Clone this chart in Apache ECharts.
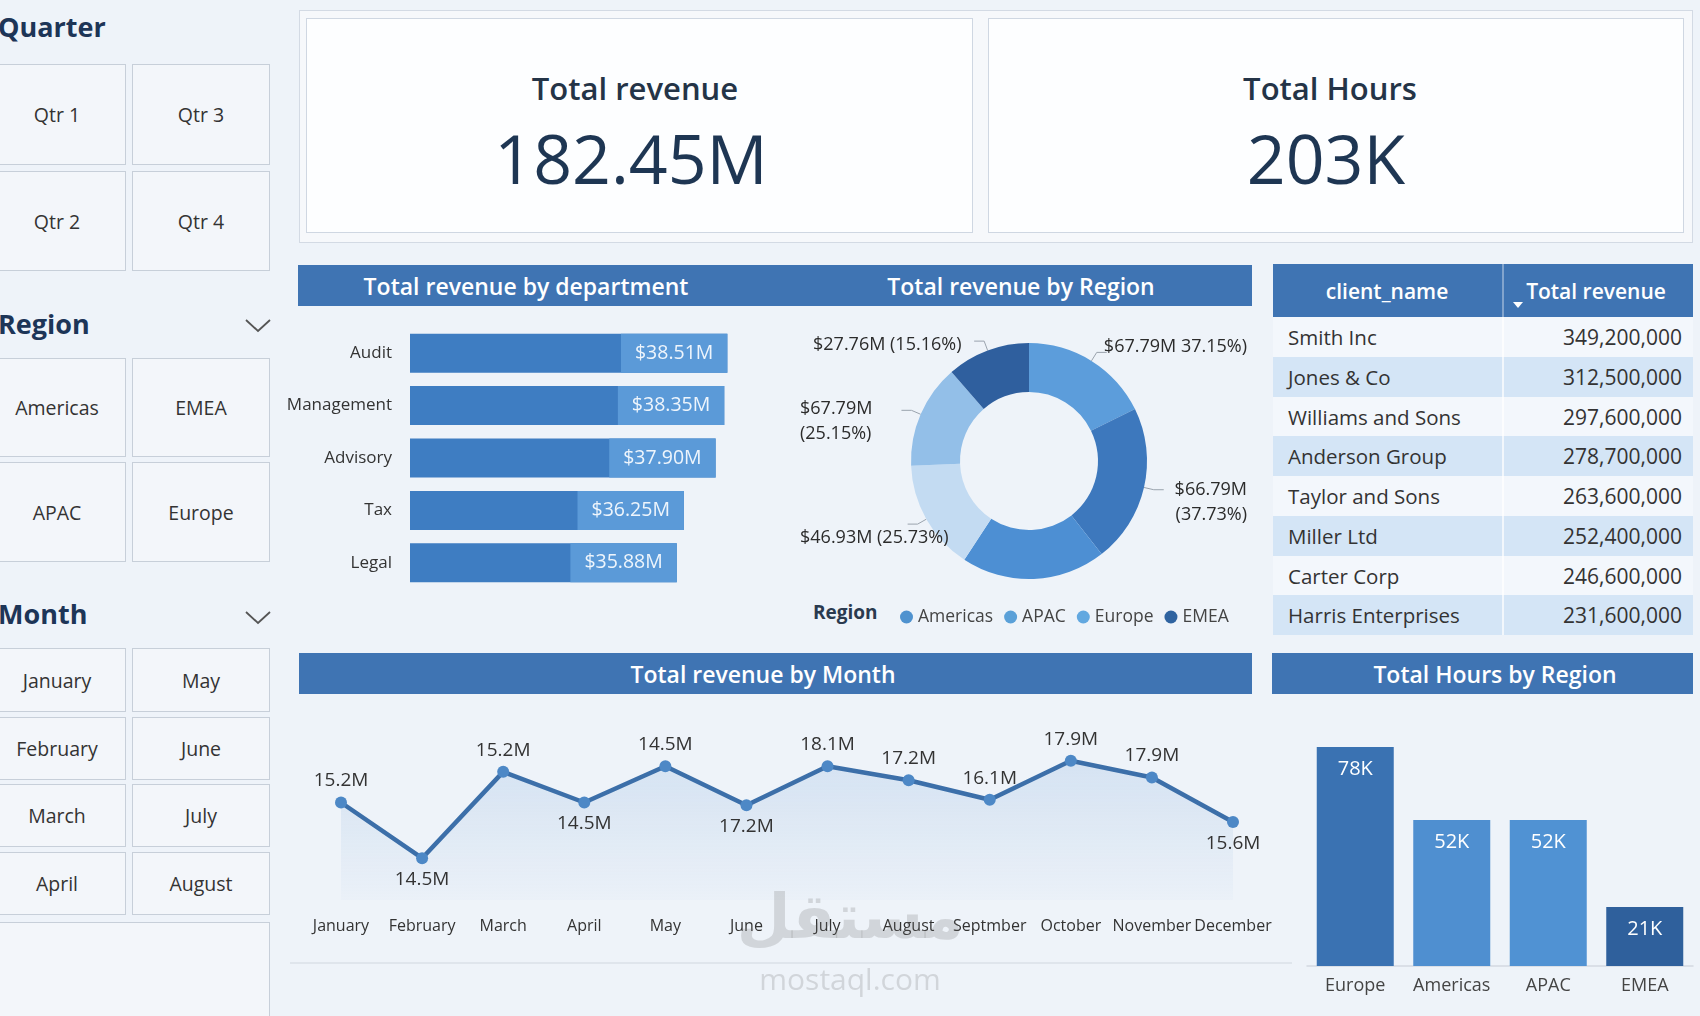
<!DOCTYPE html>
<html><head><meta charset="utf-8">
<script src="https://cdn.jsdelivr.net/npm/echarts@6/dist/echarts.min.js"></script>
<style>
html,body{margin:0;padding:0;width:1700px;height:1016px;overflow:hidden;background:#eef3f9;font-family:"Open Sans","Noto Sans",sans-serif;}
.abs{position:absolute;box-sizing:border-box;}
.slicer{position:absolute;box-sizing:border-box;border:1.5px solid #c7cfd9;background:#f3f6fa;display:flex;align-items:center;justify-content:center;font-size:19.5px;color:#333;}
.stitle{position:absolute;left:-2px;font-size:27px;font-weight:700;color:#1d3557;line-height:30px;height:30px;}
.hdr{position:absolute;box-sizing:border-box;background:#3f74b3;color:#fff;font-weight:600;font-size:23px;}
.hdr span{position:absolute;top:0;height:100%;display:flex;align-items:center;transform:translateX(-50%);white-space:nowrap;}
.card{position:absolute;box-sizing:border-box;border:1.5px solid #cfd7e2;background:#fdfeff;}
.kt{position:absolute;transform:translate(-50%,-50%);white-space:nowrap;color:#22324a;}
.row{position:absolute;left:1273px;width:420px;height:40px;box-sizing:border-box;font-size:20.5px;color:#333;}
.row .n{position:absolute;left:15px;top:0;height:100%;display:flex;align-items:center;}
.row .v{position:absolute;right:11px;top:0;height:100%;display:flex;align-items:center;font-size:21px;}
.row .d{position:absolute;left:229px;top:0;height:100%;width:2px;background:rgba(255,255,255,0.7);}
#chart{position:absolute;left:0;top:0;width:1700px;height:1016px;}
.wm{position:absolute;color:rgba(110,110,110,0.22);white-space:nowrap;transform:translateX(-50%);}
</style>
</head>
<body>
<div id="panels"></div>
<div id="chart"></div>
<div class="wm" style="left:850px;top:880px;font-family:'DejaVu Sans';font-weight:bold;font-size:62px;">مستقل</div>
<div class="wm" style="left:850px;top:958px;font-size:30px;">mostaql.com</div>
<script>
// ---------- data ----------
const quarters = ['Qtr 1','Qtr 3','Qtr 2','Qtr 4'];
const regionsSlicer = ['Americas','EMEA','APAC','Europe'];
const monthsSlicer = ['January','May','February','June','March','July','April','August'];
const kpiTitles = ['Total revenue','Total Hours'];
const kpiValues = ['182.45M','203K'];

const deptNames = ['Audit','Management','Advisory','Tax','Legal'];
const deptRevenue = [38.51, 38.35, 37.90, 36.25, 35.88];

const regionSliceNames = ['APAC','EMEA','Americas','Americas','Europe','EMEA'];
const regionSliceValues = [32.4, 39.6, 36.1, 27.6, 26.0, 20.8];
const regionSliceLabels = ['$67.79M 37.15%)', '$66.79M\n(37.73%)', '', '$46.93M (25.73%)', '$67.79M\n(25.15%)', '$27.76M (15.16%)'];
const legendNames = ['Americas','APAC','Europe','EMEA'];

const clientNames = ['Smith Inc','Jones & Co','Williams and Sons','Anderson Group','Taylor and Sons','Miller Ltd','Carter Corp','Harris Enterprises'];
const clientRevenue = [349200000, 312500000, 297600000, 278700000, 263600000, 252400000, 246600000, 231600000];

const months = ['January','February','March','April','May','June','July','August','Septmber','October','November','December'];
const monthValues = [16.5, 14.5, 17.6, 16.5, 17.8, 16.4, 17.8, 17.3, 16.6, 18.0, 17.4, 15.8];
const monthLabels = ['15.2M','14.5M','15.2M','14.5M','14.5M','17.2M','18.1M','17.2M','16.1M','17.9M','17.9M','15.6M'];

const hoursRegions = ['Europe','Americas','APAC','EMEA'];
const hoursValues = [78, 52, 52, 21];

// ---------- styles ----------
const sliceColors = ['#5c9ddb','#3d78bd','#4d8fd3','#c3dbf2','#93bfe8','#2f5f9e'];
const sliceLabelShift = [[0,-6],[0,13],[0,0],[0,14],[0,11],[13,4]];
const legendColors = ['#4f92cf','#5aa0d8','#62a8e0','#2f63a0'];
const monthLabelPos = ['top','bottom','top','bottom','top','bottom','top','top','top','top','top','bottom'];
const hoursColors = ['#3a72b2','#4f8fd0','#5092d3','#2f609c'];

// ---------- HTML panels ----------
const P = document.getElementById('panels');
function add(html){ P.insertAdjacentHTML('beforeend', html); }
const chev = (y)=>`<svg class="abs" style="left:244px;top:${y-8}px" width="28" height="16"><polyline points="2,3 14,14 26,3" fill="none" stroke="#555" stroke-width="1.8"/></svg>`;

add(`<div class="stitle" style="top:12px">Quarter</div>`);
const qRows=[[64,101],[171,100]];
quarters.forEach((q,i)=>{const r=Math.floor(i/2),c=i%2;
  add(`<div class="slicer" style="left:${c?132:-12}px;top:${qRows[r][0]}px;width:138px;height:${qRows[r][1]}px">${q}</div>`);});
add(`<div class="stitle" style="top:309px">Region</div>`+chev(325));
const rRows=[[358,99],[462,100]];
regionsSlicer.forEach((q,i)=>{const r=Math.floor(i/2),c=i%2;
  add(`<div class="slicer" style="left:${c?132:-12}px;top:${rRows[r][0]}px;width:138px;height:${rRows[r][1]}px">${q}</div>`);});
add(`<div class="stitle" style="top:599px">Month</div>`+chev(617));
const mRows=[[648,64],[717,63],[784,63],[852,63]];
monthsSlicer.forEach((q,i)=>{const r=Math.floor(i/2),c=i%2;
  add(`<div class="slicer" style="left:${c?132:-12}px;top:${mRows[r][0]}px;width:138px;height:${mRows[r][1]}px">${q}</div>`);});
add(`<div class="slicer" style="left:-12px;top:922px;width:282px;height:120px"></div>`);

// KPI
add(`<div class="abs" style="left:299px;top:10px;width:1394px;height:233px;border:1px solid #d3dae4;background:#f6f8fb"></div>`);
add(`<div class="card" style="left:306px;top:18px;width:667px;height:215px"></div>`);
add(`<div class="card" style="left:988px;top:18px;width:696px;height:215px"></div>`);
const kx=[635,1330];
kpiTitles.forEach((t,i)=>{
  add(`<div class="kt" style="left:${kx[i]}px;top:88px;font-size:31px;font-weight:600;color:#243447">${t}</div>`);
  add(`<div class="kt" style="left:${kx[i]-4}px;top:157px;font-size:68px;font-weight:500;color:#1e3653">${kpiValues[i]}</div>`);
});

// headers
add(`<div class="hdr" style="left:298px;top:265px;width:954px;height:41px"><span style="left:228px">Total revenue by department</span><span style="left:723px">Total revenue by Region</span></div>`);
add(`<div class="hdr" style="left:299px;top:653px;width:953px;height:41px"><span style="left:464px">Total revenue by Month</span></div>`);
add(`<div class="hdr" style="left:1272px;top:653px;width:421px;height:41px"><span style="left:223px">Total Hours by Region</span></div>`);
add(`<div class="hdr" style="left:1273px;top:264px;width:420px;height:53px;font-size:21px"><span style="left:114px">client_name</span><span style="left:323px">Total revenue</span><div class="abs" style="left:229px;top:0;width:1.5px;height:53px;background:rgba(255,255,255,0.35)"></div><svg class="abs" style="left:240px;top:38px" width="10" height="7"><polygon points="0,0 10,0 5,6" fill="#fff"/></svg></div>`);

// table
clientNames.forEach((n,i)=>{
  const bg = i%2 ? '#d4e5f6' : '#f3f7fc';
  add(`<div class="row" style="top:${317+i*39.75}px;background:${bg}"><div class="n">${n}</div><div class="d"></div><div class="v">${clientRevenue[i].toLocaleString('en-US')}</div></div>`);
});

// region legend title + separator line
add(`<div class="abs" style="left:813px;top:600px;font-size:19px;font-weight:700;color:#2a3a4f;line-height:24px">Region</div>`);
add(`<div class="abs" style="left:290px;top:962px;width:1002px;height:2px;background:#dfe5ec"></div>`);

// ---------- chart ----------
const chart = echarts.init(document.getElementById('chart'), null, {renderer:'canvas'});
const FONT = '"Open Sans","Noto Sans",sans-serif';
const option = {
  backgroundColor: 'transparent',
  textStyle: {fontFamily: FONT},
  animation: false,
  legend: {
    left: 895, top: 603, itemWidth: 13, itemHeight: 13, itemGap: 11, icon: 'circle',
    textStyle: {fontSize: 17.5, color: '#444', fontFamily: FONT},
    data: legendNames.map((n,i)=>({name:n, itemStyle:{color:legendColors[i]}})),
    selectedMode: false
  },
  grid: [
    {left: 410, top: 327, width: 346, height: 262},
    {left: 341, top: 705, width: 892, height: 195},
    {left: 1307, top: 747, width: 386, height: 219}
  ],
  xAxis: [
    {gridIndex: 0, type: 'value', min: 22, max: 40, show: false},
    {gridIndex: 1, type: 'category', data: months, boundaryGap: false,
     axisLine: {show: false}, axisTick: {show: false},
     axisLabel: {margin: 18, fontSize: 16, color: '#333', interval: 0, fontFamily: FONT}},
    {gridIndex: 2, type: 'category', data: hoursRegions,
     axisLine: {lineStyle: {color: '#d3d9e1', width: 1.5}}, axisTick: {show: false},
     axisLabel: {margin: 11, fontSize: 18, color: '#444', interval: 0, fontFamily: FONT}}
  ],
  yAxis: [
    {gridIndex: 0, type: 'category', data: deptNames, inverse: true,
     axisLine: {show: false}, axisTick: {show: false},
     axisLabel: {margin: 18, fontSize: 17, color: '#333', fontFamily: FONT}},
    {gridIndex: 1, type: 'value', min: 13, max: 20, show: false},
    {gridIndex: 2, type: 'value', min: 0, max: 78, show: false}
  ],
  series: [
    {type: 'bar', xAxisIndex: 0, yAxisIndex: 0, data: deptRevenue, barWidth: 39,
     itemStyle: {color: '#3e7dc2'},
     label: {show: true, position: 'insideRight', distance: 0,
       formatter: p => '$' + p.value.toFixed(2) + 'M',
       backgroundColor: '#5b9ad8', color: '#eef5fc', fontSize: 19.5, lineHeight: 39, padding: [0, 14], fontFamily: FONT}},
    {type: 'pie', left: 800, top: 320, width: 447, height: 282,
     center: [229, 141], radius: [69, 118], startAngle: 90, clockwise: true,
     avoidLabelOverlap: false,
     label: {show: true, position: 'outside', alignTo: 'edge', edgeDistance: 0,
       formatter: p => regionSliceLabels[p.dataIndex], fontSize: 18, color: '#2b2b2b', lineHeight: 25, fontFamily: FONT},
     labelLine: {show: true, length: 10, length2: 10, lineStyle: {color: '#9aa3ad', width: 1}},
     labelLayout: p => ({dx: sliceLabelShift[p.dataIndex][0], dy: sliceLabelShift[p.dataIndex][1]}),
     data: regionSliceValues.map((v,i)=>({value: v, name: regionSliceNames[i],
       itemStyle: {color: sliceColors[i]},
       label: {show: regionSliceLabels[i] !== ''},
       labelLine: {show: regionSliceLabels[i] !== ''}}))},
    {type: 'line', xAxisIndex: 1, yAxisIndex: 1,
     data: monthValues.map((v,i)=>({value: v, label: {position: monthLabelPos[i]}})),
     lineStyle: {color: '#3c6fa9', width: 4.5},
     symbol: 'circle', symbolSize: 12, itemStyle: {color: '#4d88c6'},
     areaStyle: {color: new echarts.graphic.LinearGradient(0,0,0,1,[{offset:0,color:'rgba(110,160,215,0.28)'},{offset:1,color:'rgba(110,160,215,0.03)'}])},
     label: {show: true, formatter: p => monthLabels[p.dataIndex], fontSize: 19, color: '#333', distance: 6, fontFamily: FONT}},
    {type: 'bar', xAxisIndex: 2, yAxisIndex: 2, barWidth: 77,
     data: hoursValues.map((v,i)=>({value: v, itemStyle: {color: hoursColors[i]}})),
     label: {show: true, position: 'insideTop', distance: 12, formatter: p => p.value + 'K', fontSize: 20, color: '#fff', fontFamily: FONT}}
  ]
};
chart.setOption(option);
</script>
</body></html>
